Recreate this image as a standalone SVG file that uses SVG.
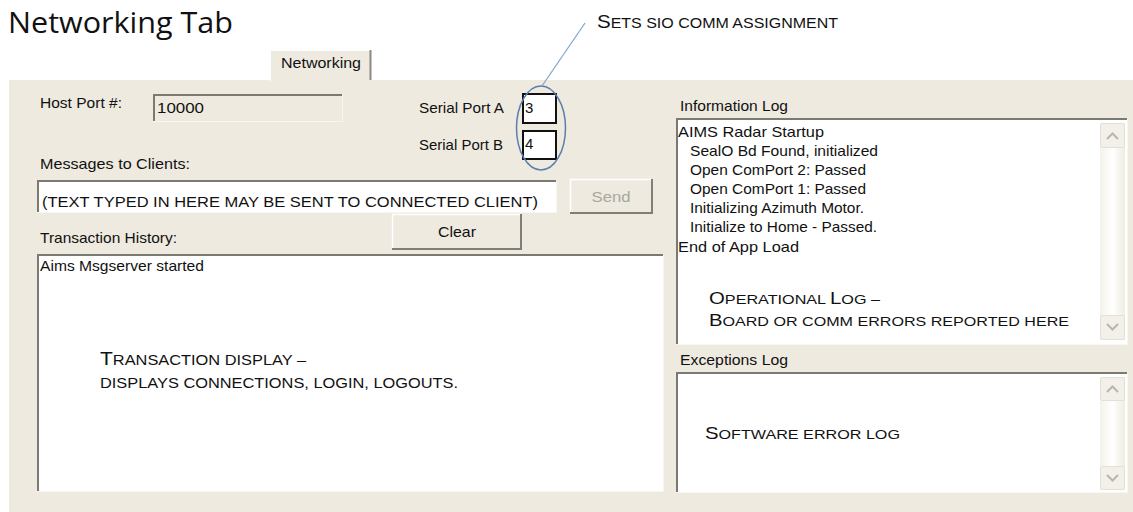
<svg xmlns="http://www.w3.org/2000/svg" width="1133" height="512" viewBox="0 0 1133 512">
<style>
.ui{font-family:"Liberation Sans",Arial,sans-serif;font-size:15px;fill:#111}
.cap{font-family:"Liberation Sans",Arial,sans-serif;fill:#111}
.dis{fill:#A8A8A0}
.well{fill:#fff}
.sunk{fill:none;stroke:#7A7A72;stroke-width:2}
.lite{fill:none;stroke:#F7F6F0;stroke-width:1}
.btn{fill:#EEEAE0}
.bhi{fill:none;stroke:#FFFFFF;stroke-width:1.5}
.bsh{fill:none;stroke:#7F7F78;stroke-width:2}
.sb{fill:#F2F0E8;stroke:#E2DFD4;stroke-width:1}
.chev{fill:none;stroke:#B8B6AE;stroke-width:2}
</style>
<defs>
<linearGradient id="track" x1="0" x2="1" y1="0" y2="0">
<stop offset="0" stop-color="#F4F2EA"/>
<stop offset="0.5" stop-color="#FFFFFF"/>
<stop offset="1" stop-color="#EEECE2"/>
</linearGradient>
</defs>
<rect x="0" y="0" width="1133" height="512" fill="#FFFFFF"/>

<g id="title">
<text x="8" y="33" font-family="'Open Sans','Liberation Sans',sans-serif" font-size="29" fill="#111" textLength="225" lengthAdjust="spacingAndGlyphs">Networking Tab</text>
</g>

<g id="panel">
<rect x="9" y="80" width="1124" height="432" fill="#EEEAE0"/>
</g>

<g id="tab">
<rect x="270" y="50" width="101" height="31" fill="#EEEAE0"/>
<path d="M270.5,81 V50.5 H370" fill="none" stroke="#FFFFFF" stroke-width="1"/>
<path d="M370.5,50 V80" fill="none" stroke="#8A8880" stroke-width="2"/>
<text class="ui" x="281" y="68" textLength="80" lengthAdjust="spacingAndGlyphs">Networking</text>
</g>

<g id="host-port">
<text class="ui" x="40" y="108" textLength="82" lengthAdjust="spacingAndGlyphs">Host Port #:</text>
<rect x="153" y="94" width="189" height="27" fill="#EEEAE0"/>
<path d="M154,121 V95 H342" class="sunk"/>
<path d="M342.5,95 V121.5 H153" class="lite"/>
<text class="ui" x="157" y="113" textLength="47" lengthAdjust="spacingAndGlyphs">10000</text>
</g>

<g id="serial-port-a">
<text class="ui" x="419" y="113" textLength="85" lengthAdjust="spacingAndGlyphs">Serial Port A</text>
<rect x="523" y="94" width="33" height="29" fill="#fff" stroke="#111" stroke-width="2"/>
<text class="ui" x="525" y="113">3</text>
</g>

<g id="serial-port-b">
<text class="ui" x="419" y="150" textLength="84" lengthAdjust="spacingAndGlyphs">Serial Port B</text>
<rect x="523" y="131" width="33" height="28" fill="#fff" stroke="#111" stroke-width="2"/>
<text class="ui" x="525" y="149">4</text>
</g>

<g id="sio-highlight">
<ellipse cx="541" cy="128" rx="24.5" ry="42" fill="none" stroke="#5A7FAE" stroke-width="1.5"/>
</g>

<g id="sio-note">
<text class="cap" x="597" y="28" textLength="241" lengthAdjust="spacingAndGlyphs"><tspan font-size="18">S</tspan><tspan font-size="14">ETS SIO COMM ASSIGNMENT</tspan></text>
</g>

<g id="connectors">
<line x1="542" y1="86" x2="585" y2="23" stroke="#7FA2CC" stroke-width="1.2"/>
</g>

<g id="messages">
<text class="ui" x="40" y="169" textLength="150" lengthAdjust="spacingAndGlyphs">Messages to Clients:</text>
<rect class="well" x="37" y="180" width="519" height="32"/>
<path d="M38,212 V181 H556" class="sunk"/>
<path d="M556.5,181 V212.5 H37" class="lite"/>
<text class="ui" x="42" y="207" font-size="16" textLength="496" lengthAdjust="spacingAndGlyphs">(TEXT TYPED IN HERE MAY BE SENT TO CONNECTED CLIENT)</text>
</g>

<g id="send-button">
<rect class="btn" x="570" y="179" width="82" height="34"/>
<path d="M570.5,212 V179.5 H651" class="bhi"/>
<path d="M652,179 V213 H570" class="bsh"/>
<text class="ui dis" x="611" y="202" text-anchor="middle" textLength="39" lengthAdjust="spacingAndGlyphs">Send</text>
</g>

<g id="clear-button">
<rect class="btn" x="392" y="214" width="129" height="35"/>
<path d="M392.5,248 V214.5 H520" class="bhi"/>
<path d="M521,214 V249 H392" class="bsh"/>
<text class="ui" x="457" y="237" text-anchor="middle" textLength="38" lengthAdjust="spacingAndGlyphs">Clear</text>
</g>

<g id="transaction-history">
<text class="ui" x="40" y="243" textLength="137" lengthAdjust="spacingAndGlyphs">Transaction History:</text>
<rect class="well" x="37" y="254" width="626" height="237"/>
<path d="M38,491 V255 H663" class="sunk"/>
<path d="M663.5,255 V491.5 H37" class="lite"/>
<text class="ui" x="40" y="271" textLength="164" lengthAdjust="spacingAndGlyphs">Aims Msgserver started</text>
<text class="cap" x="100" y="365" textLength="206" lengthAdjust="spacingAndGlyphs"><tspan font-size="18">T</tspan><tspan font-size="14">RANSACTION DISPLAY –</tspan></text>
<text class="cap" x="100" y="388" font-size="14" textLength="358" lengthAdjust="spacingAndGlyphs">DISPLAYS CONNECTIONS, LOGIN, LOGOUTS.</text>
</g>

<g id="information-log">
<text class="ui" x="680" y="111" textLength="108" lengthAdjust="spacingAndGlyphs">Information Log</text>
<rect class="well" x="676" y="118" width="451" height="226"/>
<path d="M677,344 V119 H1127" class="sunk"/>
<path d="M1127.5,119 V344.5 H676" class="lite"/>
<rect x="1100" y="123" width="25" height="217" fill="url(#track)"/>
<rect class="sb" x="1100.5" y="123.5" width="24" height="24" rx="2"/>
<path class="chev" d="M1107,139 L1112.5,133.5 L1118,139"/>
<rect class="sb" x="1100.5" y="315.5" width="24" height="24" rx="2"/>
<path class="chev" d="M1107,324 L1112.5,329.5 L1118,324"/>
<text class="ui" x="678" y="137" textLength="146" lengthAdjust="spacingAndGlyphs">AIMS Radar Startup</text>
<text class="ui" x="690" y="156" textLength="188" lengthAdjust="spacingAndGlyphs">SealO Bd Found, initialized</text>
<text class="ui" x="690" y="175" textLength="176" lengthAdjust="spacingAndGlyphs">Open ComPort 2: Passed</text>
<text class="ui" x="690" y="194" textLength="176" lengthAdjust="spacingAndGlyphs">Open ComPort 1: Passed</text>
<text class="ui" x="690" y="213" textLength="174" lengthAdjust="spacingAndGlyphs">Initializing Azimuth Motor.</text>
<text class="ui" x="690" y="232" textLength="187" lengthAdjust="spacingAndGlyphs">Initialize to Home - Passed.</text>
<text class="ui" x="678" y="252" textLength="121" lengthAdjust="spacingAndGlyphs">End of App Load</text>
<text class="cap" x="709" y="304" textLength="171" lengthAdjust="spacingAndGlyphs"><tspan font-size="17">O</tspan><tspan font-size="13.5">PERATIONAL </tspan><tspan font-size="17">L</tspan><tspan font-size="13.5">OG –</tspan></text>
<text class="cap" x="709" y="326" textLength="360" lengthAdjust="spacingAndGlyphs"><tspan font-size="17">B</tspan><tspan font-size="13.5">OARD OR COMM ERRORS REPORTED HERE</tspan></text>
</g>

<g id="exceptions-log">
<text class="ui" x="680" y="365" textLength="108" lengthAdjust="spacingAndGlyphs">Exceptions Log</text>
<rect class="well" x="676" y="372" width="451" height="120"/>
<path d="M677,492 V373 H1127" class="sunk"/>
<path d="M1127.5,373 V492.5 H676" class="lite"/>
<rect x="1100" y="377" width="25" height="113" fill="url(#track)"/>
<rect class="sb" x="1100.5" y="377.5" width="24" height="23" rx="2"/>
<path class="chev" d="M1107,392 L1112.5,386.5 L1118,392"/>
<rect class="sb" x="1100.5" y="466.5" width="24" height="23" rx="2"/>
<path class="chev" d="M1107,475 L1112.5,480.5 L1118,475"/>
<text class="cap" x="705" y="439" textLength="195" lengthAdjust="spacingAndGlyphs"><tspan font-size="17">S</tspan><tspan font-size="13.5">OFTWARE ERROR LOG</tspan></text>
</g>
</svg>
